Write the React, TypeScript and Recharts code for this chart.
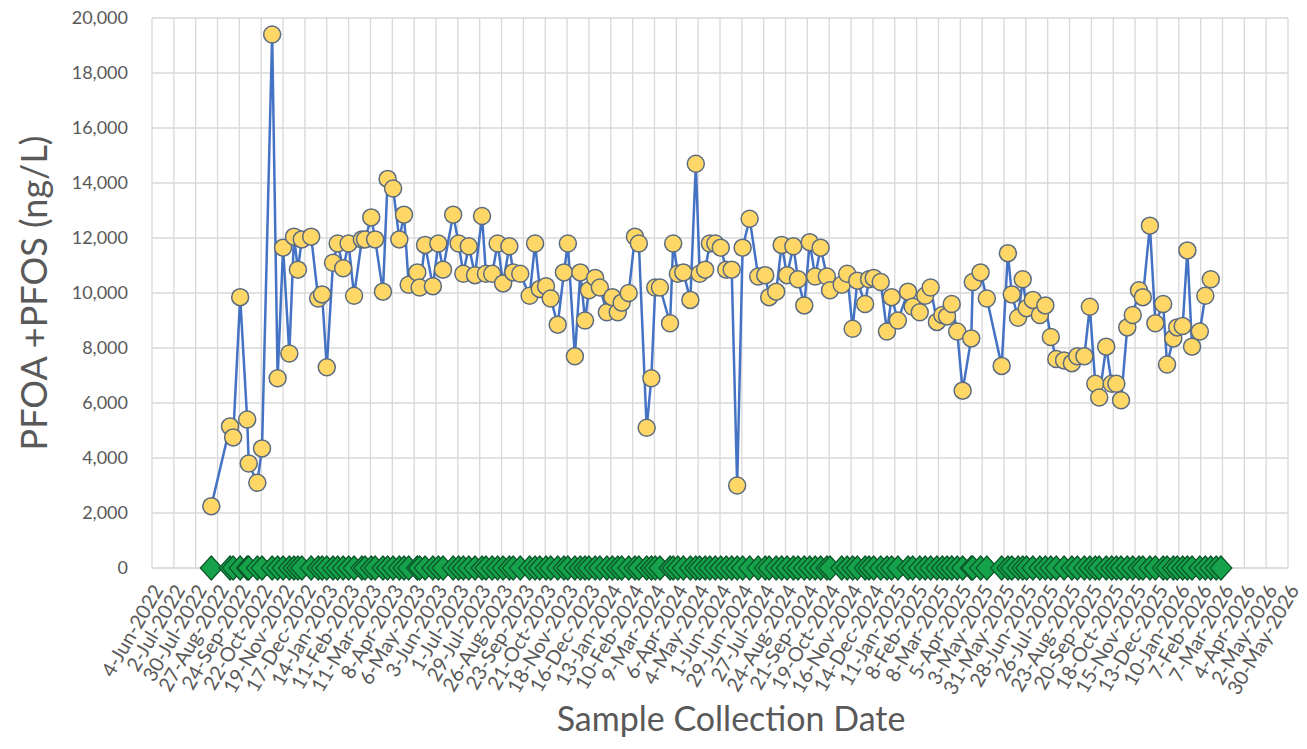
import React from 'react'
import { ComposedChart, Line, XAxis, YAxis, CartesianGrid, Label } from 'recharts'

const FONT = 'Lato, "Open Sans", sans-serif'

// raw water sample dates and PFOA + PFOS results (ng/L)
const SAMPLE_DATES = [
  '2022-08-19', '2022-09-12', '2022-09-16', '2022-09-25', '2022-10-04', '2022-10-06', '2022-10-17', '2022-10-23',
  '2022-11-05', '2022-11-12', '2022-11-19', '2022-11-27', '2022-12-03', '2022-12-08', '2022-12-13', '2022-12-25',
  '2023-01-03', '2023-01-08', '2023-01-14', '2023-01-22', '2023-01-28', '2023-02-04', '2023-02-11', '2023-02-18',
  '2023-02-28', '2023-03-04', '2023-03-12', '2023-03-17', '2023-03-27', '2023-04-02', '2023-04-09', '2023-04-17',
  '2023-04-23', '2023-04-29', '2023-05-10', '2023-05-13', '2023-05-20', '2023-05-30', '2023-06-06', '2023-06-12',
  '2023-06-25', '2023-07-02', '2023-07-08', '2023-07-15', '2023-07-23', '2023-08-01', '2023-08-06', '2023-08-14',
  '2023-08-21', '2023-08-28', '2023-09-05', '2023-09-10', '2023-09-19', '2023-10-01', '2023-10-08', '2023-10-14',
  '2023-10-22', '2023-10-28', '2023-11-06', '2023-11-14', '2023-11-19', '2023-11-28', '2023-12-05', '2023-12-11',
  '2023-12-16', '2023-12-24', '2023-12-30', '2024-01-08', '2024-01-15', '2024-01-22', '2024-01-27', '2024-02-05',
  '2024-02-13', '2024-02-18', '2024-02-28', '2024-03-05', '2024-03-10', '2024-03-16', '2024-03-29', '2024-04-02',
  '2024-04-08', '2024-04-15', '2024-04-24', '2024-05-01', '2024-05-06', '2024-05-13', '2024-05-19', '2024-05-26',
  '2024-06-02', '2024-06-09', '2024-06-16', '2024-06-23', '2024-06-30', '2024-07-09', '2024-07-20', '2024-07-29',
  '2024-08-03', '2024-08-12', '2024-08-19', '2024-08-26', '2024-09-03', '2024-09-09', '2024-09-17', '2024-09-24',
  '2024-10-01', '2024-10-08', '2024-10-16', '2024-10-20', '2024-11-04', '2024-11-11', '2024-11-18', '2024-11-24',
  '2024-12-04', '2024-12-09', '2024-12-15', '2024-12-24', '2025-01-01', '2025-01-07', '2025-01-15', '2025-01-28',
  '2025-02-03', '2025-02-12', '2025-02-19', '2025-02-26', '2025-03-06', '2025-03-13', '2025-03-19', '2025-03-25',
  '2025-04-01', '2025-04-08', '2025-04-19', '2025-04-21', '2025-05-01', '2025-05-09', '2025-05-28', '2025-06-05',
  '2025-06-10', '2025-06-18', '2025-06-24', '2025-06-29', '2025-07-07', '2025-07-16', '2025-07-23', '2025-07-30',
  '2025-08-06', '2025-08-16', '2025-08-26', '2025-09-02', '2025-09-11', '2025-09-18', '2025-09-25', '2025-09-30',
  '2025-10-09', '2025-10-16', '2025-10-22', '2025-10-28', '2025-11-05', '2025-11-12', '2025-11-20', '2025-11-25',
  '2025-12-04', '2025-12-11', '2025-12-21', '2025-12-26', '2026-01-03', '2026-01-08', '2026-01-15', '2026-01-21',
  '2026-01-27', '2026-02-06', '2026-02-13', '2026-02-20',
]

const RAW_PFOA_PFOS = [
  2250, 5150, 4750, 9850, 5400, 3800, 3100, 4350,
  19400, 6900, 11650, 7800, 12050, 10850, 11950, 12050,
  9800, 9950, 7300, 11100, 11800, 10900, 11800, 9900,
  11950, 11950, 12750, 11950, 10050, 14150, 13800, 11950,
  12850, 10300, 10750, 10200, 11750, 10250, 11800, 10850,
  12850, 11800, 10700, 11700, 10650, 12800, 10700, 10700,
  11800, 10350, 11700, 10750, 10700, 9900, 11800, 10150,
  10250, 9800, 8850, 10750, 11800, 7700, 10750, 9000,
  10100, 10550, 10200, 9300, 9850, 9300, 9650, 10000,
  12050, 11800, 5100, 6900, 10200, 10200, 8900, 11800,
  10700, 10750, 9750, 14700, 10700, 10850, 11800, 11800,
  11650, 10850, 10850, 3000, 11650, 12700, 10600, 10650,
  9850, 10050, 11750, 10650, 11700, 10500, 9550, 11850,
  10600, 11650, 10600, 10100, 10300, 10700, 8700, 10450,
  9600, 10500, 10550, 10400, 8600, 9850, 9000, 10050,
  9500, 9300, 9900, 10200, 8950, 9200, 9150, 9600,
  8600, 6450, 8350, 10400, 10750, 9800, 7350, 11450,
  9950, 9100, 10500, 9450, 9750, 9200, 9550, 8400,
  7600, 7550, 7450, 7700, 7700, 9500, 6700, 6200,
  8050, 6700, 6700, 6100, 8750, 9200, 10100, 9850,
  12450, 8900, 9600, 7400, 8350, 8750, 8800, 11550,
  8050, 8600, 9900, 10500,
]

// treated water results: every sample plots on the zero line
const TREATED_DATES = SAMPLE_DATES.concat(['2026-02-27', '2026-03-05'])
const TREATED_PFOA_PFOS = [
  0, 0, 0, 0, 0, 0, 0, 0, 0, 0, 0, 0, 0, 0, 0, 0, 0, 0, 0, 0, 0, 0, 0, 0, 0, 0, 0, 0, 0, 0,
  0, 0, 0, 0, 0, 0, 0, 0, 0, 0, 0, 0, 0, 0, 0, 0, 0, 0, 0, 0, 0, 0, 0, 0, 0, 0, 0, 0, 0, 0,
  0, 0, 0, 0, 0, 0, 0, 0, 0, 0, 0, 0, 0, 0, 0, 0, 0, 0, 0, 0, 0, 0, 0, 0, 0, 0, 0, 0, 0, 0,
  0, 0, 0, 0, 0, 0, 0, 0, 0, 0, 0, 0, 0, 0, 0, 0, 0, 0, 0, 0, 0, 0, 0, 0, 0, 0, 0, 0, 0, 0,
  0, 0, 0, 0, 0, 0, 0, 0, 0, 0, 0, 0, 0, 0, 0, 0, 0, 0, 0, 0, 0, 0, 0, 0, 0, 0, 0, 0, 0, 0,
  0, 0, 0, 0, 0, 0, 0, 0, 0, 0, 0, 0, 0, 0, 0, 0, 0, 0, 0, 0, 0, 0, 0, 0,
]

const X_TICK_LABELS = [
  '4-Jun-2022', '2-Jul-2022', '30-Jul-2022', '27-Aug-2022', '24-Sep-2022', '22-Oct-2022', '19-Nov-2022',
  '17-Dec-2022', '14-Jan-2023', '11-Feb-2023', '11-Mar-2023', '8-Apr-2023', '6-May-2023', '3-Jun-2023',
  '1-Jul-2023', '29-Jul-2023', '26-Aug-2023', '23-Sep-2023', '21-Oct-2023', '18-Nov-2023', '16-Dec-2023',
  '13-Jan-2024', '10-Feb-2024', '9-Mar-2024', '6-Apr-2024', '4-May-2024', '1-Jun-2024', '29-Jun-2024',
  '27-Jul-2024', '24-Aug-2024', '21-Sep-2024', '19-Oct-2024', '16-Nov-2024', '14-Dec-2024', '11-Jan-2025',
  '8-Feb-2025', '8-Mar-2025', '5-Apr-2025', '3-May-2025', '31-May-2025', '28-Jun-2025', '26-Jul-2025',
  '23-Aug-2025', '20-Sep-2025', '18-Oct-2025', '15-Nov-2025', '13-Dec-2025', '10-Jan-2026', '7-Feb-2026',
  '7-Mar-2026', '4-Apr-2026', '2-May-2026', '30-May-2026',
]

const Y_TICKS = [0, 2000, 4000, 6000, 8000, 10000, 12000, 14000, 16000, 18000, 20000]

const MONTHS = ['Jan', 'Feb', 'Mar', 'Apr', 'May', 'Jun', 'Jul', 'Aug', 'Sep', 'Oct', 'Nov', 'Dec']
const DAY = 86400000

const isoToDay = (s: string) => {
  const [y, m, d] = s.split('-').map(Number)
  return Date.UTC(y, m - 1, d) / DAY
}
const labelToDay = (s: string) => {
  const [d, mon, y] = s.split('-')
  return Date.UTC(Number(y), MONTHS.indexOf(mon), Number(d)) / DAY
}

const X_TICKS = X_TICK_LABELS.map(labelToDay)
const LABEL_BY_DAY = new Map(X_TICKS.map((t, i) => [t, X_TICK_LABELS[i]]))

const rawData = SAMPLE_DATES.map((d, i) => ({ t: isoToDay(d), v: RAW_PFOA_PFOS[i] }))
const treatedData = TREATED_DATES.map((d, i) => ({ t: isoToDay(d), v: TREATED_PFOA_PFOS[i] }))

const DateTick = (props: any) => {
  const { x, y, payload } = props
  const ax = x + 5
  const ay = y + 16
  return (
    <text
      x={ax}
      y={ay}
      transform={`rotate(-60, ${ax}, ${ay})`}
      textAnchor="end"
      dominantBaseline="central"
      fontSize={20}
      fill="#595959"
      fontFamily={FONT}
    >
      {LABEL_BY_DAY.get(payload.value)}
    </text>
  )
}

const Diamond = (props: any) => {
  const { cx, cy, index } = props
  if (cx == null || cy == null) return <g key={index} />
  return (
    <polygon
      key={index}
      points={`${cx},${cy - 12} ${cx + 11},${cy} ${cx},${cy + 12} ${cx - 11},${cy}`}
      fill="#15A24B"
      stroke="#0B5528"
      strokeWidth={1.2}
    />
  )
}

export default function App() {
  return (
    <div style={{ width: 1307, height: 749, background: '#fff' }}>
      <style>{'body{margin:0}'}</style>
      <ComposedChart width={1307} height={749} margin={{ top: 18, right: 19, bottom: 0, left: 0 }}>
        <CartesianGrid stroke="#D9D9D9" strokeWidth={1.3} />
        <XAxis
          type="number"
          dataKey="t"
          domain={[X_TICKS[0], X_TICKS[X_TICKS.length - 1]]}
          ticks={X_TICKS}
          interval={0}
          height={181}
          tick={<DateTick />}
          tickLine={false}
          tickSize={0}
          stroke="#D9D9D9"
        >
          <Label
            content={(p: any) => {
              const vb = p.viewBox
              return (
                <text
                  x={vb.x + vb.width / 2 + 11}
                  y={717}
                  textAnchor="middle"
                  dominantBaseline="central"
                  fontSize={34}
                  fill="#595959"
                  fontFamily={FONT}
                >
                  Sample Collection Date
                </text>
              )
            }}
          />
        </XAxis>
        <YAxis
          type="number"
          domain={[0, 20000]}
          ticks={Y_TICKS}
          interval={0}
          width={152}
          axisLine={false}
          tickLine={false}
          tickSize={0}
          tickMargin={24}
          tick={{ fill: '#595959', fontSize: 18, fontFamily: FONT }}
          tickFormatter={(v: number) => v.toLocaleString('en-US')}
        >
          <Label
            content={(p: any) => {
              const vb = p.viewBox
              const cy = vb.y + vb.height / 2
              return (
                <text
                  x={33}
                  y={cy}
                  transform={`rotate(-90, 33, ${cy})`}
                  textAnchor="middle"
                  dominantBaseline="central"
                  fontSize={36}
                  fill="#595959"
                  fontFamily={FONT}
                >
                  PFOA +PFOS (ng/L)
                </text>
              )
            }}
          />
        </YAxis>
        <Line
          data={treatedData}
          dataKey="v"
          stroke="none"
          strokeWidth={0}
          dot={Diamond}
          activeDot={false}
          isAnimationActive={false}
        />
        <Line
          data={rawData}
          dataKey="v"
          stroke="#4472C4"
          strokeWidth={2.5}
          dot={{ r: 8.5, fill: '#FFD766', stroke: '#5B6B80', strokeWidth: 1.5 }}
          activeDot={false}
          isAnimationActive={false}
        />
      </ComposedChart>
    </div>
  )
}
